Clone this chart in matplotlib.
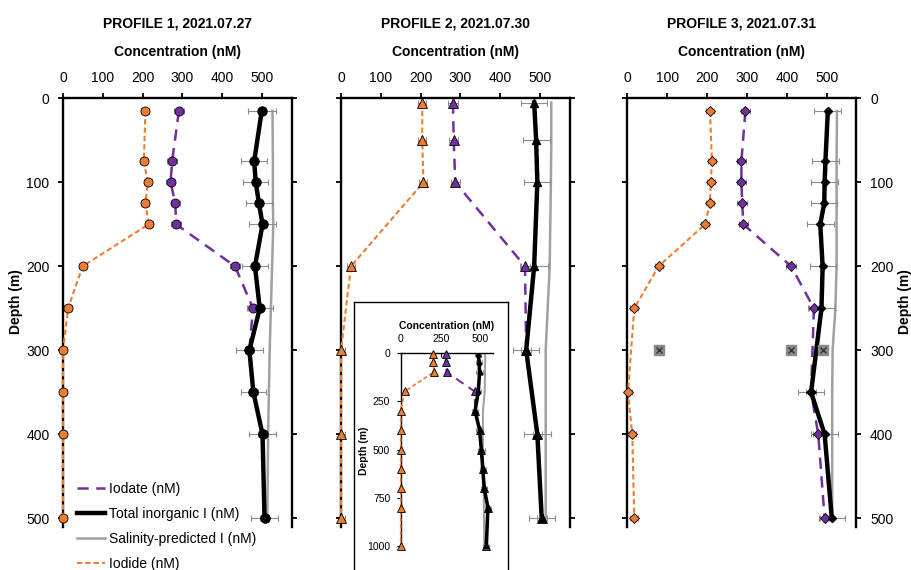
import matplotlib.pyplot as plt
import numpy as np

plt.rcParams['font.family'] = ['Liberation Sans', 'DejaVu Sans']

PURPLE = '#7030A0'
ORANGE = '#ED7D31'
GREY = '#a0a0a0'
ERRC = '#8c8c8c'

titles = ['PROFILE 1, 2021.07.27', 'PROFILE 2, 2021.07.30', 'PROFILE 3, 2021.07.31']
legend_labels = ['Iodate (nM)', 'Total inorganic I (nM)',
                 'Salinity-predicted I (nM)', 'Iodide (nM)']

# profile 1 (depth in m, concentrations in nM)
p1_depth = [15, 75, 100, 125, 150, 200, 250, 300, 350, 400, 500]
p1_iodide = [207, 203, 213, 207, 215, 49, 13, 0, 0, 0, 0]
p1_iodate = [291, 274, 270, 282, 284, 432, 477, 468, 478, 501, 506]
p1_total = [499, 480, 484, 492, 501, 482, 494, 468, 478, 501, 506]
p1_total_err = [35, 32, 31, 32, 35, 32, 33, 33, 32, 34, 33]
p1_sal_depth = p1_depth
p1_salinity = [526, 527, 527, 527, 528, 525, 522, 519, 517, 515, 513]

# profile 2
p2_depth = [5, 50, 100, 200, 300, 400, 500]
p2_iodide = [204, 204, 207, 25, 0, 0, 0]
p2_iodate = [281, 283, 287, 462, 465, 493, 504]
p2_total = [485, 490, 493, 485, 465, 493, 504]
p2_total_err = [33, 34, 33, 34, 33, 34, 33]
p2_sal_depth = p2_depth
p2_salinity = [528, 528, 527, 524, 514, 514, 514]

# profile 3
p3_depth = [15, 75, 100, 125, 150, 200, 250, 350, 400, 500]
p3_iodide = [207, 212, 209, 207, 195, 78, 17, 1, 12, 17]
p3_iodate = [296, 286, 286, 288, 291, 411, 468, 461, 479, 495]
p3_total = [503, 497, 495, 494, 484, 490, 487, 461, 495, 513]
p3_total_err = [34, 33, 33, 33, 34, 33, 34, 32, 33, 33]
p3_sal_depth = [15, 75, 100, 125, 150, 200, 250, 300, 350, 400, 500]
p3_salinity = [526, 525, 525, 525, 525, 525, 522, 515, 514, 514, 514]
# flagged samples at 300 m (iodide, iodate, total)
p3_flag_depth = 300
p3_flag_values = [79, 411, 490]

# profile 2 full-depth cast
in_depth = [5, 50, 100, 200, 300, 400, 500, 600, 700, 800, 1000]
in_iodide = [204, 204, 207, 25, 0, 0, 0, 0, 0, 0, 0]
in_iodate = [281, 283, 287, 462, 465, 493, 504, 513, 522, 545, 535]
in_total = [485, 490, 493, 485, 465, 493, 504, 513, 522, 545, 535]
in_total_err = [20, 20, 20, 20, 20, 20, 20, 20, 20, 20, 20]
in_salinity = [528, 528, 527, 525, 514, 514, 514, 516, 518, 520, 522]

IODIDE_ERR = 10
IODATE_ERR = 12

W, H = 912, 570
fig = plt.figure(figsize=(W / 100, H / 100), dpi=100)


def px_axes(left, top, right, bottom):
    return fig.add_axes([left / W, 1 - bottom / H, (right - left) / W, (bottom - top) / H])


def draw_profile(ax, depth, iodide, iodate, total, total_err, sal_depth, salinity,
                 marker, ms, total_ms, lw_scale=1.0, err_cap=2.5):
    ax.plot(salinity, sal_depth, color=GREY, lw=1.8 * lw_scale, zorder=2,
            label=legend_labels[2])
    ax.errorbar(total, depth, xerr=total_err, fmt='none', ecolor=ERRC,
                elinewidth=0.8, capsize=err_cap, capthick=0.8, zorder=2.2)
    ax.errorbar(iodate, depth, xerr=IODATE_ERR, fmt='none', ecolor=ERRC,
                elinewidth=0.7, capsize=err_cap * 0.8, capthick=0.7, zorder=2.2)
    ax.errorbar(iodide, depth, xerr=IODIDE_ERR, fmt='none', ecolor=ERRC,
                elinewidth=0.7, capsize=err_cap * 0.8, capthick=0.7, zorder=2.2)
    ax.plot(iodate, depth, color=PURPLE, lw=1.8 * lw_scale, ls=(0, (4.5, 3)),
            zorder=3, label=legend_labels[0])
    ax.plot(iodate, depth, ls='none', marker=marker, ms=ms, mfc=PURPLE,
            mec='black', mew=0.6, zorder=3.5, clip_on=False)
    ax.plot(iodide, depth, color=ORANGE, lw=1.5 * lw_scale, ls=(0, (2.5, 1.5)),
            zorder=3, label=legend_labels[3], clip_on=False)
    ax.plot(iodide, depth, ls='none', marker=marker, ms=ms, mfc=ORANGE,
            mec='black', mew=0.6, zorder=3.5, clip_on=False)
    ax.plot(total, depth, color='black', lw=3.2 * lw_scale, zorder=4,
            label=legend_labels[1])
    ax.plot(total, depth, ls='none', marker=marker, ms=total_ms, mfc='black',
            mec='black', zorder=4.5)


def style_panel(ax, title):
    ax.set_xlim(0, 575)
    ax.set_ylim(510, 0)
    ax.set_xticks(np.arange(0, 501, 100))
    ax.set_yticks(np.arange(0, 501, 100))
    ax.xaxis.tick_top()
    ax.xaxis.set_label_position('top')
    ax.spines['bottom'].set_visible(False)
    for s in ('top', 'left', 'right'):
        ax.spines[s].set_linewidth(1.7)
    ax.tick_params(axis='both', direction='out', length=3.8, width=1.3,
                   labelsize=10, pad=6)
    ax.tick_params(axis='y', left=True, right=True)
    ax.set_xlabel('Concentration (nM)', fontsize=10, fontweight='bold', labelpad=10.5)
    bb = ax.get_position()
    fig.text((bb.x0 + bb.x1) / 2, 1 - 24 / H, title, ha='center', va='center',
             fontsize=10, fontweight='bold')


lefts = [63, 341, 627.5]
axes = [px_axes(l, 98.3, l + 229, 526.7) for l in lefts]
for ax, t in zip(axes, titles):
    style_panel(ax, t)

ax1, ax2, ax3 = axes

draw_profile(ax1, p1_depth, p1_iodide, p1_iodate, p1_total, p1_total_err,
             p1_sal_depth, p1_salinity, 'o', 6.5, 6.5)
draw_profile(ax2, p2_depth, p2_iodide, p2_iodate, p2_total, p2_total_err,
             p2_sal_depth, p2_salinity, '^', 7, 5.5)
draw_profile(ax3, p3_depth, p3_iodide, p3_iodate, p3_total, p3_total_err,
             p3_sal_depth, p3_salinity, 'D', 5, 4)

# flagged 300 m samples on profile 3
flag_y = [p3_flag_depth] * len(p3_flag_values)
ax3.plot(p3_flag_values, flag_y, ls='none', marker='s', ms=6.5, mfc='#8a8a8a',
         mec='#8a8a8a', zorder=5)
ax3.plot(p3_flag_values, flag_y, ls='none', marker='x', ms=5, mec='#333333',
         mew=1.0, zorder=5.5)

ax1.set_ylabel('Depth (m)', fontsize=10, fontweight='bold')
ax1.yaxis.set_label_coords(-0.175, 0.525)

ax2.tick_params(axis='y', labelleft=False)

ax3.tick_params(axis='y', labelleft=False, labelright=True)
ax3.yaxis.set_label_position('right')
ax3.set_ylabel('Depth (m)', fontsize=10, fontweight='bold')
ax3.yaxis.set_label_coords(1.182, 0.525)

handles, labels = ax1.get_legend_handles_labels()
order = [labels.index(l) for l in legend_labels]
ax1.legend([handles[i] for i in order], [labels[i] for i in order],
           loc='upper left', bbox_to_anchor=(0.061, 0.105), frameon=False,
           fontsize=10, handlelength=2.0, handletextpad=0.3, labelspacing=0.8,
           borderpad=0, borderaxespad=0)

# framed inset with the full-depth cast of profile 2
box = fig.add_axes([354.3 / W, -0.02, 153.4 / W, (H - 302.3) / H + 0.02])
box.set_xticks([])
box.set_yticks([])
for s in box.spines.values():
    s.set_linewidth(1.0)
box.set_zorder(5)

ins = px_axes(400.7, 352.7, 492.7, 548.3)
ins.set_zorder(6)
ins.patch.set_alpha(0)
ins.set_xlim(0, 575)
ins.set_ylim(1010, 0)
ins.set_xticks([0, 250, 500])
ins.set_yticks([0, 250, 500, 750, 1000])
ins.xaxis.tick_top()
ins.xaxis.set_label_position('top')
ins.spines['bottom'].set_visible(False)
ins.spines['right'].set_visible(False)
ins.spines['top'].set_linewidth(1.0)
ins.spines['left'].set_linewidth(1.0)
ins.tick_params(axis='x', direction='in', length=3, width=0.8, labelsize=7.5, pad=6.5)
ins.tick_params(axis='y', direction='out', length=3, width=0.8, labelsize=7.5, pad=4.5)
ins.set_xlabel('Concentration (nM)', fontsize=7.5, fontweight='bold', labelpad=3.5)
ins.set_ylabel('Depth (m)', fontsize=7.5, fontweight='bold')
ins.yaxis.set_label_coords(-0.345, 0.5)
draw_profile(ins, in_depth, in_iodide, in_iodate, in_total, in_total_err,
             in_depth, in_salinity, '^', 5.5, 3.5, lw_scale=0.8, err_cap=1.5)

fig.savefig('out.png', dpi=100)
